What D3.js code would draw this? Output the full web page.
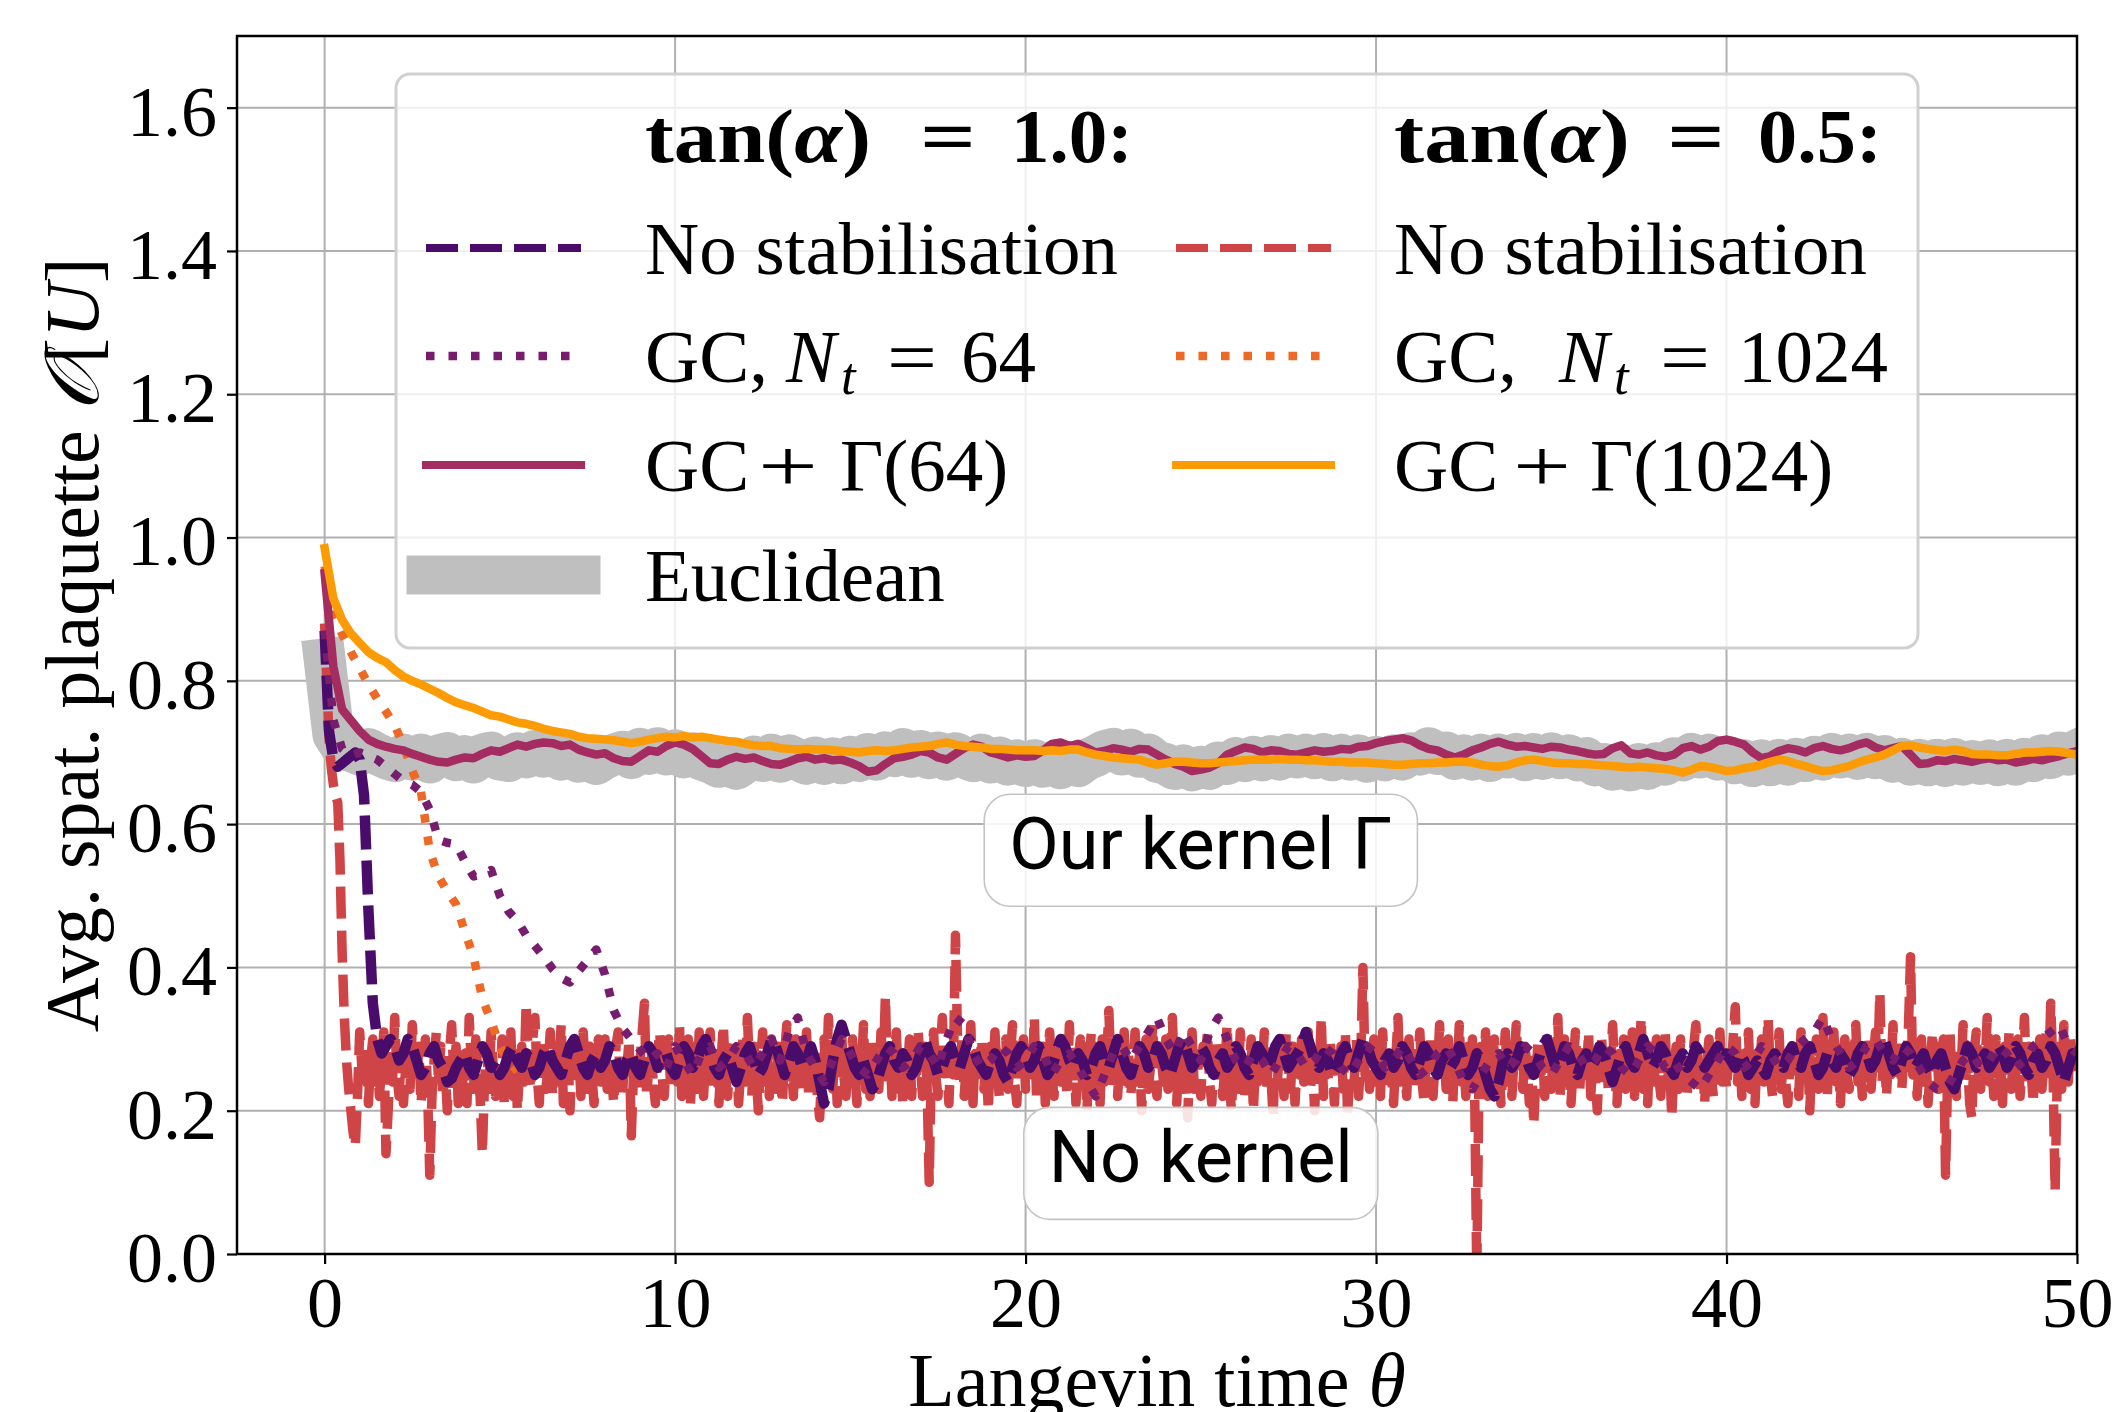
<!DOCTYPE html>
<html><head><meta charset="utf-8">
<script src="https://cdn.jsdelivr.net/npm/d3@7"></script>
<style>
body{margin:0;background:#fff}
svg text{font-family:"Liberation Serif","DejaVu Serif",serif;fill:#000}
</style>
</head><body>
<svg id="chart" width="2114" height="1412"></svg>
<script>
// ---------------- data ----------------
const xTicks = [0, 10, 20, 30, 40, 50];
const yTicks = [0.0, 0.2, 0.4, 0.6, 0.8, 1.0, 1.2, 1.4, 1.6];
const dtRed = 0.0625;   // sampling step of the tan(a)=0.5 unstabilised run
const dtFine = 0.125;   // sampling step of the tan(a)=1.0 unstabilised run
const dtCoarse = 0.25;  // sampling step of the other runs

// Euclidean reference (grey band), step 0.25
const euclidean = [
0.83,0.725,0.706,0.702,0.697,0.705,0.698,0.692,
0.688,0.697,0.690,0.697,0.686,0.696,0.699,0.689,
0.695,0.686,0.697,0.700,0.690,0.688,0.699,0.693,
0.702,0.694,0.701,0.690,0.697,0.687,0.694,0.684,
0.692,0.697,0.701,0.692,0.705,0.698,0.706,0.697,
0.703,0.693,0.699,0.690,0.686,0.680,0.683,0.677,
0.686,0.694,0.688,0.697,0.687,0.696,0.690,0.684,
0.693,0.684,0.692,0.685,0.694,0.688,0.698,0.690,
0.700,0.695,0.705,0.694,0.702,0.692,0.700,0.690,
0.699,0.693,0.688,0.697,0.686,0.693,0.683,0.689,
0.681,0.689,0.680,0.687,0.678,0.686,0.681,0.690,
0.695,0.702,0.705,0.697,0.704,0.694,0.697,0.687,
0.684,0.677,0.682,0.675,0.680,0.677,0.686,0.684,
0.692,0.688,0.694,0.689,0.695,0.690,0.697,0.693,
0.697,0.692,0.698,0.689,0.697,0.690,0.696,0.687,
0.694,0.689,0.696,0.690,0.699,0.697,0.706,0.698,
0.700,0.691,0.696,0.690,0.697,0.688,0.697,0.693,
0.698,0.689,0.698,0.691,0.699,0.692,0.696,0.689,
0.692,0.682,0.684,0.676,0.683,0.675,0.684,0.677,
0.685,0.683,0.692,0.689,0.698,0.693,0.697,0.690,
0.694,0.685,0.689,0.681,0.689,0.682,0.690,0.683,
0.691,0.688,0.694,0.690,0.698,0.693,0.697,0.691,
0.698,0.692,0.695,0.687,0.691,0.683,0.690,0.682,
0.690,0.681,0.691,0.683,0.688,0.684,0.689,0.682,
0.690,0.683,0.691,0.688,0.696,0.692,0.700,0.697,
0.703];

// tan(alpha)=0.5, no stabilisation, step 0.0625 (one row per time unit)
const noStab05 = [
0.88,0.80,0.72,0.68,0.655,0.64,0.63,0.55,0.42,0.33,0.27,0.23,0.20,0.17,0.15,0.22,
0.31,0.26,0.23,0.29,0.21,0.27,0.30,0.24,0.28,0.22,0.26,0.31,0.14,0.20,0.27,0.24,
0.33,0.25,0.22,0.28,0.21,0.26,0.30,0.23,0.32,0.27,0.24,0.29,0.21,0.25,0.30,0.23,
0.11,0.22,0.27,0.31,0.24,0.29,0.22,0.26,0.20,0.28,0.32,0.25,0.29,0.21,0.26,0.24,
0.28,0.21,0.33,0.26,0.23,0.30,0.25,0.22,0.14,0.24,0.29,0.23,0.31,0.26,0.22,0.27,
0.24,0.30,0.21,0.27,0.25,0.31,0.22,0.28,0.20,0.26,0.29,0.24,0.35,0.27,0.23,0.30,
0.33,0.25,0.21,0.28,0.30,0.23,0.26,0.31,0.22,0.28,0.24,0.27,0.32,0.21,0.26,0.29,
0.20,0.27,0.30,0.24,0.28,0.22,0.31,0.26,0.23,0.29,0.25,0.21,0.27,0.30,0.24,0.26,
0.30,0.23,0.27,0.25,0.21,0.29,0.31,0.24,0.22,0.28,0.26,0.30,0.165,0.25,0.28,0.23,
0.27,0.31,0.35,0.22,0.26,0.29,0.24,0.21,0.28,0.31,0.25,0.22,0.27,0.30,0.23,0.26,
0.29,0.24,0.32,0.22,0.27,0.25,0.30,0.21,0.26,0.29,0.23,0.31,0.27,0.22,0.28,0.25,
0.31,0.23,0.26,0.29,0.21,0.27,0.32,0.25,0.22,0.28,0.30,0.24,0.27,0.21,0.26,0.30,
0.24,0.33,0.26,0.22,0.29,0.25,0.20,0.27,0.31,0.24,0.28,0.22,0.30,0.26,0.23,0.29,
0.25,0.21,0.28,0.32,0.24,0.27,0.22,0.30,0.26,0.23,0.29,0.25,0.31,0.22,0.27,0.24,
0.28,0.22,0.19,0.26,0.30,0.24,0.33,0.27,0.23,0.29,0.21,0.26,0.31,0.25,0.22,0.28,
0.24,0.30,0.26,0.21,0.29,0.25,0.32,0.23,0.27,0.22,0.30,0.25,0.28,0.23,0.31,0.26,
0.36,0.24,0.29,0.22,0.27,0.31,0.23,0.26,0.21,0.28,0.25,0.30,0.22,0.27,0.24,0.31,
0.26,0.22,0.29,0.24,0.10,0.27,0.31,0.25,0.22,0.28,0.33,0.24,0.27,0.21,0.29,0.25,
0.445,0.29,0.24,0.30,0.22,0.27,0.25,0.32,0.21,0.28,0.24,0.26,0.30,0.23,0.27,0.20,
0.29,0.24,0.31,0.26,0.22,0.28,0.25,0.30,0.23,0.27,0.32,0.24,0.21,0.28,0.26,0.30,
0.23,0.27,0.30,0.25,0.33,0.22,0.28,0.24,0.29,0.21,0.26,0.31,0.25,0.22,0.29,0.27,
0.24,0.30,0.26,0.22,0.32,0.25,0.28,0.21,0.27,0.30,0.24,0.29,0.20,0.26,0.31,0.23,
0.28,0.25,0.21,0.30,0.24,0.27,0.34,0.26,0.23,0.29,0.22,0.27,0.25,0.31,0.24,0.28,
0.22,0.26,0.31,0.24,0.28,0.20,0.27,0.30,0.23,0.26,0.32,0.25,0.22,0.29,0.27,0.24,
0.30,0.23,0.27,0.33,0.25,0.21,0.28,0.24,0.29,0.26,0.19,0.27,0.31,0.23,0.28,0.25,
0.22,0.29,0.26,0.31,0.24,0.21,0.27,0.30,0.25,0.28,0.22,0.26,0.32,0.24,0.20,0.27,
0.29,0.23,0.31,0.26,0.22,0.28,0.25,0.30,0.20,0.27,0.24,0.29,0.26,0.31,0.23,0.27,
0.25,0.19,0.28,0.24,0.30,0.27,0.22,0.31,0.26,0.23,0.29,0.21,0.27,0.25,0.30,0.24,
0.28,0.31,0.23,0.26,0.20,0.29,0.25,0.33,0.22,0.27,0.24,0.30,0.26,0.21,0.28,0.25,
0.29,0.23,0.31,0.19,0.26,0.28,0.24,0.30,0.22,0.27,0.40,0.25,0.29,0.23,0.26,0.30,
0.24,0.28,0.22,0.31,0.26,0.23,0.29,0.25,0.21,0.27,0.33,0.24,0.28,0.26,0.22,0.30,
0.25,0.29,0.23,0.27,0.31,0.24,0.21,0.28,0.26,0.30,0.22,0.27,0.25,0.32,0.24,0.28,
0.23,0.30,0.26,0.21,0.28,0.25,0.32,0.24,0.27,0.22,0.29,0.26,0.30,0.23,-0.03,0.25,
0.29,0.24,0.31,0.22,0.27,0.25,0.30,0.23,0.28,0.21,0.26,0.31,0.24,0.28,0.22,0.27,
0.32,0.25,0.28,0.23,0.29,0.26,0.21,0.27,0.18,0.25,0.30,0.24,0.28,0.22,0.31,0.26,
0.23,0.29,0.25,0.33,0.22,0.27,0.30,0.24,0.28,0.21,0.26,0.31,0.25,0.23,0.29,0.27,
0.24,0.31,0.22,0.27,0.25,0.20,0.28,0.30,0.24,0.29,0.23,0.26,0.32,0.25,0.21,0.28,
0.26,0.30,0.23,0.27,0.24,0.31,0.22,0.28,0.25,0.33,0.23,0.27,0.21,0.29,0.26,0.24,
0.30,0.25,0.22,0.28,0.31,0.24,0.27,0.19,0.26,0.29,0.23,0.30,0.25,0.28,0.22,0.27,
0.24,0.29,0.32,0.26,0.23,0.28,0.21,0.27,0.30,0.25,0.22,0.29,0.26,0.31,0.24,0.28,
0.23,0.27,0.25,0.30,0.345,0.24,0.28,0.22,0.29,0.26,0.31,0.23,0.27,0.21,0.28,0.25,
0.30,0.24,0.27,0.33,0.25,0.22,0.29,0.26,0.31,0.23,0.28,0.24,0.21,0.27,0.30,0.25,
0.28,0.22,0.31,0.26,0.24,0.29,0.20,0.27,0.25,0.30,0.23,0.28,0.33,0.25,0.22,0.29,
0.26,0.31,0.24,0.27,0.21,0.28,0.30,0.25,0.23,0.29,0.26,0.32,0.24,0.27,0.22,0.28,
0.25,0.30,0.23,0.27,0.31,0.26,0.365,0.24,0.29,0.22,0.28,0.25,0.32,0.24,0.27,0.30,
0.23,0.28,0.26,0.31,0.415,0.25,0.29,0.22,0.27,0.30,0.24,0.28,0.21,0.26,0.31,0.25,
0.29,0.23,0.27,0.30,0.11,0.26,0.31,0.24,0.28,0.22,0.29,0.25,0.32,0.24,0.27,0.21,
0.19,0.28,0.31,0.25,0.23,0.29,0.26,0.33,0.24,0.27,0.22,0.30,0.25,0.28,0.21,0.29,
0.26,0.31,0.23,0.28,0.25,0.30,0.22,0.27,0.33,0.24,0.29,0.26,0.21,0.28,0.25,0.30,
0.23,0.27,0.31,0.24,0.35,0.26,0.088,0.25,0.29,0.23,0.32,0.26,0.24,0.30,0.27,0.25,
0.27];

// tan(alpha)=0.5, GC with N_t=1024, step 0.25
const gc1024 = [
0.96,0.895,0.865,0.84,0.818,0.795,0.775,0.757,0.738,0.71,0.675,0.645,
0.562,0.527,0.506,0.488,0.45,0.415,0.357,0.325,0.29,0.268,0.255];

// tan(alpha)=1.0, no stabilisation, step 0.125
const noStab10 = [
0.87,0.73,0.69,0.68,0.685,0.69,0.695,0.70,0.69,0.64,0.48,0.35,0.30,0.28,0.29,0.30,
0.29,0.27,0.28,0.30,0.29,0.27,0.25,0.26,0.28,0.29,0.27,0.26,0.24,0.245,0.26,0.27,
0.28,0.26,0.25,0.27,0.29,0.28,0.26,0.27,0.25,0.26,0.28,0.29,0.27,0.26,0.28,0.27,
0.25,0.26,0.28,0.29,0.27,0.26,0.25,0.27,0.29,0.30,0.28,0.26,0.25,0.27,0.28,0.26,
0.27,0.29,0.28,0.26,0.25,0.27,0.28,0.26,0.25,0.27,0.29,0.28,0.26,0.27,0.28,0.26,
0.25,0.27,0.29,0.28,0.26,0.27,0.29,0.30,0.28,0.26,0.25,0.27,0.28,0.26,0.24,0.26,
0.28,0.29,0.27,0.25,0.26,0.28,0.30,0.29,0.27,0.25,0.27,0.29,0.28,0.26,0.27,0.29,
0.27,0.24,0.21,0.23,0.27,0.30,0.32,0.30,0.28,0.26,0.25,0.27,0.25,0.23,0.24,0.26,
0.28,0.29,0.27,0.26,0.28,0.27,0.25,0.26,0.28,0.30,0.28,0.27,0.25,0.26,0.28,0.29,
0.27,0.26,0.28,0.30,0.29,0.27,0.26,0.25,0.27,0.28,0.27,0.25,0.24,0.26,0.28,0.29,
0.28,0.26,0.27,0.29,0.27,0.25,0.26,0.28,0.30,0.29,0.27,0.26,0.28,0.27,0.25,0.26,
0.28,0.29,0.27,0.26,0.28,0.30,0.28,0.26,0.25,0.27,0.29,0.28,0.26,0.27,0.29,0.28,
0.26,0.25,0.27,0.29,0.30,0.28,0.26,0.27,0.29,0.28,0.26,0.25,0.27,0.28,0.26,0.27,
0.29,0.28,0.26,0.25,0.27,0.29,0.28,0.26,0.27,0.29,0.30,0.28,0.26,0.27,0.28,0.29,
0.31,0.29,0.27,0.26,0.28,0.27,0.25,0.26,0.28,0.29,0.27,0.26,0.28,0.30,0.29,0.27,
0.26,0.25,0.27,0.28,0.26,0.27,0.29,0.28,0.26,0.25,0.27,0.29,0.28,0.26,0.25,0.27,
0.28,0.26,0.27,0.29,0.27,0.25,0.26,0.28,0.27,0.25,0.23,0.22,0.24,0.27,0.28,0.26,
0.27,0.29,0.28,0.26,0.25,0.27,0.29,0.30,0.28,0.26,0.27,0.29,0.28,0.26,0.25,0.27,
0.28,0.26,0.27,0.29,0.28,0.26,0.24,0.26,0.28,0.29,0.27,0.26,0.28,0.30,0.28,0.26,
0.27,0.29,0.28,0.26,0.25,0.27,0.28,0.26,0.27,0.29,0.28,0.26,0.27,0.28,0.29,0.27,
0.28,0.27,0.26,0.28,0.27,0.25,0.26,0.27,0.26,0.25,0.27,0.28,0.27,0.26,0.28,0.29,
0.27,0.26,0.28,0.29,0.27,0.25,0.26,0.28,0.27,0.26,0.28,0.27,0.25,0.26,0.28,0.29,
0.28,0.26,0.27,0.29,0.30,0.28,0.26,0.25,0.27,0.29,0.28,0.26,0.27,0.28,0.26,0.25,
0.27,0.28,0.26,0.24,0.23,0.25,0.27,0.29,0.28,0.26,0.27,0.28,0.26,0.27,0.29,0.28,
0.26,0.27,0.29,0.28,0.26,0.25,0.27,0.28,0.26,0.27,0.29,0.28,0.26,0.24,0.26,0.28,
0.27];

// tan(alpha)=1.0, GC with N_t=64, step 0.25
const gc64 = [
0.87,0.745,0.705,0.695,0.70,0.695,0.69,0.68,0.67,0.66,0.655,0.645,0.62,0.578,0.574,0.572,
0.548,0.527,0.530,0.536,0.50,0.478,0.465,0.445,0.43,0.415,0.398,0.385,0.379,0.395,0.41,0.425,
0.39,0.34,0.315,0.30,0.285,
0.27,0.28,0.26,0.29, 0.27,0.25,0.28,0.29, 0.26,0.27,0.29,0.28, 0.26,0.28,0.30,0.27,
0.31,0.33,0.28,0.26, 0.24,0.27,0.30,0.28, 0.26,0.25,0.27,0.29, 0.28,0.26,0.27,0.29,
0.28,0.26,0.30,0.33, 0.32,0.28,0.26,0.27, 0.29,0.28,0.26,0.27, 0.29,0.28,0.25,0.27,
0.28,0.26,0.24,0.22, 0.25,0.28,0.29,0.27, 0.29,0.31,0.33,0.30, 0.28,0.31,0.29,0.27,
0.31,0.33,0.30,0.27, 0.26,0.28,0.27,0.25, 0.27,0.29,0.28,0.26, 0.27,0.29,0.28,0.26,
0.25,0.27,0.29,0.28, 0.26,0.27,0.29,0.27, 0.25,0.26,0.28,0.29, 0.27,0.24,0.23,0.25,
0.27,0.28,0.26,0.27, 0.29,0.28,0.26,0.25, 0.27,0.29,0.28,0.26, 0.27,0.29,0.28,0.26,
0.25,0.27,0.29,0.28, 0.26,0.27,0.25,0.24, 0.23,0.25,0.27,0.29, 0.28,0.26,0.27,0.29,
0.28,0.26,0.27,0.29, 0.30,0.31,0.33,0.30, 0.28,0.26,0.27,0.29, 0.30,0.28,0.27,0.29,
0.28,0.26,0.24,0.23, 0.23,0.25,0.27,0.28, 0.26,0.27,0.29,0.28, 0.26,0.27,0.29,0.30,
0.31,0.32,0.29,0.28];

// tan(alpha)=1.0, GC + kernel Gamma(64), step 0.25
const gcKernel64 = [
0.95,0.82,0.76,0.745,0.73,0.718,0.712,0.708,
0.705,0.703,0.698,0.694,0.690,0.687,0.686,0.690,
0.693,0.692,0.698,0.703,0.701,0.706,0.711,0.708,
0.712,0.714,0.713,0.709,0.711,0.704,0.700,0.697,
0.699,0.692,0.688,0.687,0.695,0.703,0.701,0.709,
0.714,0.711,0.705,0.695,0.685,0.684,0.690,0.694,
0.691,0.693,0.688,0.684,0.683,0.687,0.692,0.694,
0.690,0.692,0.689,0.690,0.686,0.681,0.673,0.675,
0.684,0.692,0.694,0.697,0.702,0.700,0.693,0.690,
0.698,0.706,0.711,0.708,0.700,0.697,0.693,0.696,
0.694,0.695,0.703,0.712,0.714,0.709,0.712,0.706,
0.700,0.702,0.706,0.704,0.701,0.705,0.704,0.697,
0.690,0.684,0.680,0.674,0.676,0.679,0.685,0.697,
0.702,0.707,0.705,0.700,0.703,0.702,0.698,0.697,
0.700,0.703,0.701,0.702,0.705,0.704,0.708,0.709,
0.713,0.716,0.718,0.720,0.717,0.710,0.705,0.703,
0.697,0.693,0.697,0.703,0.707,0.712,0.715,0.711,
0.708,0.709,0.707,0.705,0.708,0.707,0.704,0.702,
0.699,0.697,0.698,0.706,0.710,0.699,0.697,0.700,
0.696,0.694,0.697,0.706,0.709,0.704,0.708,0.716,
0.718,0.715,0.711,0.700,0.692,0.695,0.702,0.706,
0.704,0.700,0.706,0.709,0.705,0.703,0.706,0.711,
0.714,0.707,0.703,0.706,0.709,0.697,0.684,0.685,
0.689,0.688,0.691,0.689,0.687,0.690,0.692,0.689,
0.690,0.686,0.688,0.691,0.689,0.692,0.695,0.699,
0.702];

// tan(alpha)=0.5, GC + kernel Gamma(1024), step 0.25
const gcKernel1024 = [
0.985,0.915,0.885,0.866,0.853,0.840,0.832,0.826,
0.815,0.806,0.800,0.795,0.789,0.783,0.776,0.770,
0.766,0.762,0.757,0.752,0.750,0.746,0.742,0.740,
0.737,0.733,0.730,0.728,0.726,0.722,0.720,0.719,
0.718,0.717,0.715,0.713,0.715,0.718,0.720,0.722,
0.721,0.723,0.721,0.722,0.720,0.718,0.716,0.715,
0.712,0.710,0.709,0.709,0.706,0.705,0.704,0.705,
0.704,0.704,0.703,0.702,0.701,0.700,0.702,0.703,
0.702,0.703,0.705,0.707,0.708,0.709,0.712,0.714,
0.711,0.709,0.708,0.707,0.705,0.705,0.704,0.703,
0.703,0.703,0.702,0.703,0.702,0.704,0.704,0.700,
0.697,0.695,0.693,0.692,0.691,0.690,0.686,0.683,
0.685,0.687,0.687,0.686,0.685,0.685,0.686,0.687,
0.688,0.689,0.690,0.690,0.690,0.691,0.690,0.690,
0.689,0.689,0.688,0.687,0.687,0.686,0.686,0.686,
0.685,0.684,0.683,0.683,0.684,0.685,0.685,0.686,
0.686,0.687,0.687,0.686,0.683,0.681,0.680,0.682,
0.686,0.689,0.690,0.688,0.686,0.685,0.685,0.684,
0.684,0.683,0.682,0.681,0.680,0.679,0.680,0.679,
0.678,0.677,0.675,0.672,0.676,0.681,0.680,0.677,
0.674,0.675,0.678,0.680,0.683,0.687,0.690,0.688,
0.684,0.681,0.677,0.674,0.675,0.678,0.681,0.686,
0.690,0.693,0.697,0.703,0.709,0.710,0.707,0.705,
0.703,0.702,0.704,0.702,0.698,0.697,0.697,0.696,
0.696,0.698,0.700,0.700,0.701,0.702,0.701,0.699,
0.697];

const annotations = [
  {text: "Our kernel Γ", x: 25, y: 0.537},
  {text: "No kernel", x: 25, y: 0.100}
];

// ---------------- drawing ----------------
const svg = d3.select("#chart");
const P = {left: 237, right: 2077, top: 36, bottom: 1254};
const x = d3.scaleLinear().domain([-2.5, 50]).range([P.left, P.right]);
const y = d3.scaleLinear().domain([0, 1.7]).range([P.bottom, P.top]);

svg.append("rect").attr("width", 2114).attr("height", 1412).attr("fill", "#fff");

// grid
const grid = svg.append("g");
grid.selectAll(".gx").data(xTicks).join("line")
  .attr("x1", d => x(d)).attr("x2", d => x(d)).attr("y1", P.top).attr("y2", P.bottom)
  .attr("stroke", "#b0b0b0").attr("stroke-width", 2);
grid.selectAll(".gy").data(yTicks).join("line")
  .attr("y1", d => y(d)).attr("y2", d => y(d)).attr("x1", P.left).attr("x2", P.right)
  .attr("stroke", "#b0b0b0").attr("stroke-width", 2);

svg.append("clipPath").attr("id", "plotclip").append("rect")
  .attr("x", P.left).attr("y", P.top).attr("width", P.right - P.left).attr("height", P.bottom - P.top);

const series = [
  {v: euclidean,    dt: dtCoarse, color: "#bfbfbf", w: 42,   dash: null,      cap: "square"},
  {v: noStab05,     dt: dtRed,    color: "#cf4446", w: 9.5,  dash: "32,12",   cap: "butt"},
  {v: gc1024,       dt: dtCoarse, color: "#ed6925", w: 8.5,  dash: "8.5,14",  cap: "butt"},
  {v: noStab10,     dt: dtFine,   color: "#4a0c6b", w: 10.5, dash: "34,11",   cap: "butt"},
  {v: gc64,         dt: dtCoarse, color: "#781c6d", w: 8.5,  dash: "8.5,14",  cap: "butt"},
  {v: gcKernel64,   dt: dtCoarse, color: "#a52c60", w: 8.5,  dash: null,      cap: "square"},
  {v: gcKernel1024, dt: dtCoarse, color: "#fb9b06", w: 8.5,  dash: null,      cap: "square"}
];
const lineGen = d3.line().x(d => x(d[0])).y(d => y(d[1]));
const lines = svg.append("g").attr("clip-path", "url(#plotclip)");
series.forEach(s => {
  const pts = s.v.map((val, i) => [i * s.dt, val]);
  lines.append("path").attr("d", lineGen(pts)).attr("fill", "none")
    .attr("stroke", s.color).attr("stroke-width", s.w)
    .attr("stroke-linejoin", "round").attr("stroke-linecap", s.cap)
    .attr("stroke-dasharray", s.dash);
});

// annotation boxes
annotations.forEach(a => {
  const g = svg.append("g");
  const r = g.append("rect");
  const t = g.append("text").attr("x", x(a.x)).attr("y", y(a.y)).attr("text-anchor", "middle")
    .style("font-family", "Roboto, 'Liberation Sans', sans-serif").attr("font-size", 72).text(a.text);
  const bb = t.node().getBBox();
  r.attr("x", bb.x - 25).attr("width", bb.width + 50)
   .attr("y", y(a.y) - 75).attr("height", 112).attr("rx", 26)
   .attr("fill", "#fff").attr("fill-opacity", 0.85)
   .attr("stroke", "#c4c4c4").attr("stroke-width", 1.6);
});

// axes
const ax = svg.append("g").attr("transform", `translate(0,${P.bottom})`)
  .call(d3.axisBottom(x).tickValues(xTicks).tickSize(10).tickPadding(12).tickFormat(d3.format("d")));
const ay = svg.append("g").attr("transform", `translate(${P.left},0)`)
  .call(d3.axisLeft(y).tickValues(yTicks).tickSize(10).tickPadding(10).tickFormat(d3.format(".1f")));
[ax, ay].forEach(a => {
  a.select(".domain").remove();
  a.selectAll(".tick line").attr("stroke", "#000").attr("stroke-width", 2.2);
  a.selectAll(".tick text").attr("font-size", 72).style("font-family", "'Liberation Serif', serif");
});
ay.selectAll(".tick text").attr("dy", "0.38em");
svg.append("rect").attr("x", P.left).attr("y", P.top).attr("width", P.right - P.left)
  .attr("height", P.bottom - P.top).attr("fill", "none").attr("stroke", "#000").attr("stroke-width", 2.5);

// axis labels
const xl = svg.append("text").attr("x", (P.left + P.right) / 2).attr("y", 1406)
  .attr("text-anchor", "middle").attr("font-size", 76);
xl.append("tspan").text("Langevin time ");
xl.append("tspan").attr("font-style", "italic").text("θ");

const yl = svg.append("text").attr("transform", `translate(98,${(P.top + P.bottom) / 2}) rotate(-90)`)
  .attr("text-anchor", "middle").attr("font-size", 76);
yl.append("tspan").text("Avg. spat. plaquette ");
yl.append("tspan").attr("font-style", "italic").text("𝒪");
yl.append("tspan").text("[");
yl.append("tspan").attr("font-style", "italic").text("U");
yl.append("tspan").text("]");

// legend
const legend = svg.append("g");
legend.append("rect").attr("x", 396).attr("y", 74).attr("width", 1522).attr("height", 574)
  .attr("rx", 14).attr("fill", "#fff").attr("fill-opacity", 0.8)
  .attr("stroke", "#d0d0d0").attr("stroke-width", 3);

// each part: t (text or list of [text, italic]), x offset, optional len, sub, bold
function part(p, x0, y0, size) {
  const fs = p.sub ? size * 0.7 : size;
  const t = legend.append("text").attr("x", x0 + p.x).attr("y", y0 + (p.sub ? 12 : 0))
    .attr("font-size", fs).attr("font-weight", p.bold ? "bold" : "normal");
  const pieces = Array.isArray(p.t) ? p.t : [[p.t, p.it]];
  pieces.forEach(([s, it]) => {
    const ts = t.append("tspan").text(s);
    if (it) ts.attr("font-style", "italic");
  });
  if (p.len) t.attr("textLength", p.len).attr("lengthAdjust", "spacingAndGlyphs");
}

const legendCols = [
  {hx: 426, tx: 645,
   header: [{t: [["tan(", false], ["α", true], [")", false]], x: 0, len: 226, bold: true},
            {t: "=", x: 275, len: 56, bold: true}, {t: "1.0:", x: 366, len: 122, bold: true}],
   rows: [
     {color: "#4a0c6b", w: 8, dash: "32,12", label: [{t: "No stabilisation", x: 0}]},
     {color: "#781c6d", w: 8.5, dash: "8.5,14", label: [{t: "GC,", x: 0}, {t: "N", it: true, x: 141}, {t: "t", it: true, sub: true, x: 196}, {t: "=", x: 242, len: 50}, {t: "64", x: 316}]},
     {color: "#a52c60", w: 8, dash: null, label: [{t: "GC", x: 0}, {t: "+", x: 113, len: 60}, {t: "Γ(64)", x: 195}]},
     {color: "#bfbfbf", w: 39, dash: null, label: [{t: "Euclidean", x: 0}]}
   ]},
  {hx: 1176, tx: 1394,
   header: [{t: [["tan(", false], ["α", true], [")", false]], x: 0, len: 236, bold: true},
            {t: "=", x: 273, len: 58, bold: true}, {t: "0.5:", x: 364, len: 124, bold: true}],
   rows: [
     {color: "#cf4446", w: 8, dash: "32,12", label: [{t: "No stabilisation", x: 0}]},
     {color: "#ed6925", w: 8.5, dash: "8.5,14", label: [{t: "GC,", x: 0}, {t: "N", it: true, x: 165}, {t: "t", it: true, sub: true, x: 220}, {t: "=", x: 266, len: 50}, {t: "1024", x: 344}]},
     {color: "#fb9b06", w: 8, dash: null, label: [{t: "GC", x: 0}, {t: "+", x: 119, len: 58}, {t: "Γ(1024)", x: 196}]}
   ]}
];
const rowBase = [274, 382, 491, 601];
legendCols.forEach(c => {
  c.header.forEach(p => part(p, c.tx, 162, 76));
  c.rows.forEach((r, i) => {
    const yy = rowBase[i] - 26;
    legend.append("line").attr("x1", c.hx).attr("x2", c.hx + 155).attr("y1", yy).attr("y2", yy)
      .attr("stroke", r.color).attr("stroke-width", r.w)
      .attr("stroke-linecap", r.dash ? "butt" : "square").attr("stroke-dasharray", r.dash);
    r.label.forEach(p => part(p, c.tx, rowBase[i], 75));
  });
});
</script>
</body></html>
